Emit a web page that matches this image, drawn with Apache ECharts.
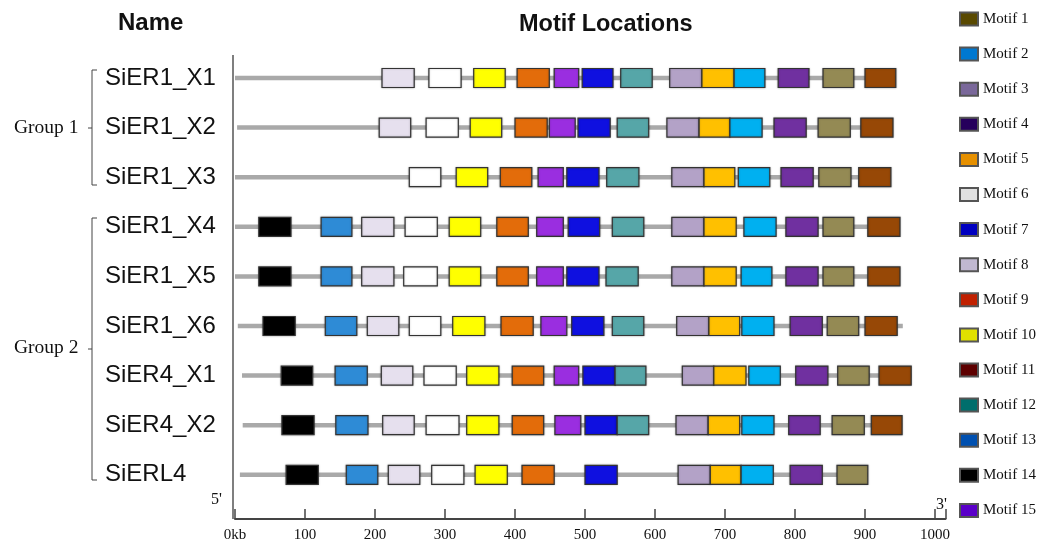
<!DOCTYPE html>
<html>
<head>
<meta charset="utf-8">
<script src="https://cdn.jsdelivr.net/npm/echarts@6/dist/echarts.min.js"></script>
<style>html,body{margin:0;padding:0;background:#fff}#c{width:1049px;height:546px}</style>
</head>
<body>
<div id="c"></div>
<script>
// ---- data ----
const genes = ['SiER1_X1','SiER1_X2','SiER1_X3','SiER1_X4','SiER1_X5','SiER1_X6','SiER4_X1','SiER4_X2','SiERL4'];
const lineStart = [0, 3, 0, 0, 0, 4, 10, 11, 7];
const lineEnd   = [944, 940, 937, 950, 950, 954, 966, 953, 904];
const xTicks = [0,100,200,300,400,500,600,700,800,900,1000];
const motifNames = ['Motif 1','Motif 2','Motif 3','Motif 4','Motif 5','Motif 6','Motif 7','Motif 8','Motif 9','Motif 10','Motif 11','Motif 12','Motif 13','Motif 14','Motif 15'];
const legendColors = ['#594900','#0078d0','#7a689a','#26005c','#e69000','#e0e0e0','#0000c0','#c0b8d0','#c02000','#e0e000','#5e0000','#006e6c','#0050b0','#000000','#5a00c8'];
const boxColors = ['#948a54','#2e8bd6','#7030a0','#ffffff','#ffc000','#e6e0ee','#0f10e0','#b3a2c7','#e36c0a','#ffff00','#974806','#56a6a8','#00b0f0','#000000','#9a2ee0'];
// [motif, start, end]
const sitesX1 = [[6,210,256],[4,277,323],[10,341,386],[9,403,449],[15,456,491],[7,496,540],[12,551,596],[8,621,667],[5,667,713],[13,713,757],[3,776,820],[1,840,884],[11,900,944]];
const sitesX2 = [[6,206,251],[4,273,319],[10,336,381],[9,400,446],[15,449,486],[7,490,536],[12,546,591],[8,617,663],[5,663,707],[13,707,753],[3,770,816],[1,833,879],[11,894,940]];
const sitesX3 = [[4,249,294],[10,316,361],[9,379,424],[15,433,469],[7,474,520],[12,531,577],[8,624,670],[5,670,714],[13,719,764],[3,780,826],[1,834,880],[11,891,937]];
const sitesX4 = [[14,34,80],[2,123,167],[6,181,227],[4,243,289],[10,306,351],[9,374,419],[15,431,469],[7,476,521],[12,539,584],[8,624,670],[5,670,716],[13,727,773],[3,787,833],[1,840,884],[11,904,950]];
const sitesX5 = [[14,34,80],[2,123,167],[6,181,227],[4,241,289],[10,306,351],[9,374,419],[15,431,469],[7,474,520],[12,530,576],[8,624,670],[5,670,716],[13,723,767],[3,787,833],[1,840,884],[11,904,950]];
const sitesX6 = [[14,40,86],[2,129,174],[6,189,234],[4,249,294],[10,311,357],[9,380,426],[15,437,474],[7,481,527],[12,539,584],[8,631,677],[5,677,721],[13,724,770],[3,793,839],[1,846,891],[11,900,946]];
const sites4X1 = [[14,66,111],[2,143,189],[6,209,254],[4,270,316],[10,331,377],[9,396,441],[15,456,491],[7,497,543],[12,543,587],[8,639,684],[5,684,730],[13,734,779],[3,801,847],[1,861,906],[11,920,966]];
const sites4X2 = [[14,67,113],[2,144,190],[6,211,256],[4,273,320],[10,331,377],[9,396,441],[15,457,494],[7,500,546],[12,546,591],[8,630,676],[5,676,721],[13,724,770],[3,791,836],[1,853,899],[11,909,953]];
const sitesL4 = [[14,73,119],[2,159,204],[6,219,264],[4,281,327],[10,343,389],[9,410,456],[7,500,546],[8,633,679],[5,679,723],[13,723,769],[3,793,839],[1,860,904]];
const geneSites = [sitesX1,sitesX2,sitesX3,sitesX4,sitesX5,sitesX6,sites4X1,sites4X2,sitesL4];

// ---- build ----
const lineData = genes.map((g,i)=>[i, lineStart[i], lineEnd[i]]);
const boxData = [];
geneSites.forEach((arr,i)=>arr.forEach(s=>boxData.push([i, s[1], s[2], s[0]])));

const SANS = 'Liberation Sans, Arial, sans-serif';
const SERIF = 'Liberation Serif, Times New Roman, serif';

const legendSeries = motifNames.map((n,k)=>({name:n, type:'bar', data:[], itemStyle:{color:legendColors[k], borderColor:'#555', borderWidth:1}}));

const chart = echarts.init(document.getElementById('c'), null, {renderer:'canvas'});
chart.setOption({
  animation:false,
  backgroundColor:'#fff',
  grid:{left:235, right:103.5, top:53.2, bottom:46.4, containLabel:false},
  xAxis:{type:'value', min:0, max:1015, interval:100,
    offset:19.4,
    splitLine:{show:false},
    axisLine:{show:true, lineStyle:{color:'#444', width:2}},
    axisTick:{show:true, inside:true, length:10, lineStyle:{color:'#444', width:1.5}},
    axisLabel:{margin:9, fontFamily:SERIF, fontSize:15, color:'#111',
      formatter:v=> v===0 ? '0kb' : (xTicks.indexOf(v)>=0 ? String(v) : '')}
  },
  yAxis:{type:'category', data:genes, inverse:true,
    axisLine:{show:false}, axisTick:{show:false}, splitLine:{show:false},
    axisLabel:{margin:130, align:'left', fontFamily:SANS, fontSize:24, color:'#111'}
  },
  legend:{orient:'vertical', left:959, top:11.5, padding:0, icon:'rect', itemWidth:18, itemHeight:13, itemGap:20.1,
    data:motifNames, selectedMode:false,
    textStyle:{fontFamily:SERIF, fontSize:15, color:'#111', lineHeight:13}},
  graphic:[
    {type:'line', shape:{x1:233,y1:55,x2:233,y2:519}, style:{stroke:'#555', lineWidth:1.5}},
    {type:'text', left:118, top:11, style:{text:'Name', font:'bold 24px '+SANS, fill:'#111'}},
    {type:'text', left:519, top:13, style:{text:'Motif Locations', font:'bold 23.5px '+SANS, fill:'#111'}},
    {type:'polyline', shape:{points:[[97,70],[92,70],[92,185],[97,185]]}, style:{stroke:'#444', lineWidth:1, fill:null}},
    {type:'line', shape:{x1:88,y1:128,x2:92,y2:128}, style:{stroke:'#444', lineWidth:1}},
    {type:'polyline', shape:{points:[[97,218],[92,218],[92,480],[97,480]]}, style:{stroke:'#444', lineWidth:1, fill:null}},
    {type:'line', shape:{x1:88,y1:349,x2:92,y2:349}, style:{stroke:'#444', lineWidth:1}},
    {type:'text', x:14, y:128, style:{text:'Group 1', font:'19.5px '+SERIF, fill:'#111', verticalAlign:'middle'}},
    {type:'text', x:14, y:348, style:{text:'Group 2', font:'19.5px '+SERIF, fill:'#111', verticalAlign:'middle'}},
    {type:'text', x:211, y:500, style:{text:"5'", font:'16px '+SERIF, fill:'#111', verticalAlign:'middle'}},
    {type:'text', x:936, y:505, style:{text:"3'", font:'16px '+SERIF, fill:'#111', verticalAlign:'middle'}}
  ],
  series:[
    {type:'custom', name:'backbone', data:lineData, encode:{x:[1,2], y:0}, z:2,
      renderItem:(p,api)=>{
        const a = api.coord([api.value(1), api.value(0)]);
        const b = api.coord([api.value(2), api.value(0)]);
        return {type:'line', shape:{x1:a[0], y1:a[1], x2:b[0], y2:b[1]}, style:{stroke:'#a9a9a9', lineWidth:4.5}};
      }},
    {type:'custom', name:'motifs', data:boxData, encode:{x:[1,2], y:0}, z:3,
      renderItem:(p,api)=>{
        const a = api.coord([api.value(1), api.value(0)]);
        const b = api.coord([api.value(2), api.value(0)]);
        const h = 19;
        return {type:'rect', shape:{x:a[0], y:a[1]-h/2, width:b[0]-a[0], height:h},
          style:{fill:boxColors[api.value(3)-1], stroke:'#333', lineWidth:1.2, shadowBlur:2, shadowColor:'rgba(0,0,0,0.25)'}};
      }},
    ...legendSeries
  ]
});
</script>
</body>
</html>
